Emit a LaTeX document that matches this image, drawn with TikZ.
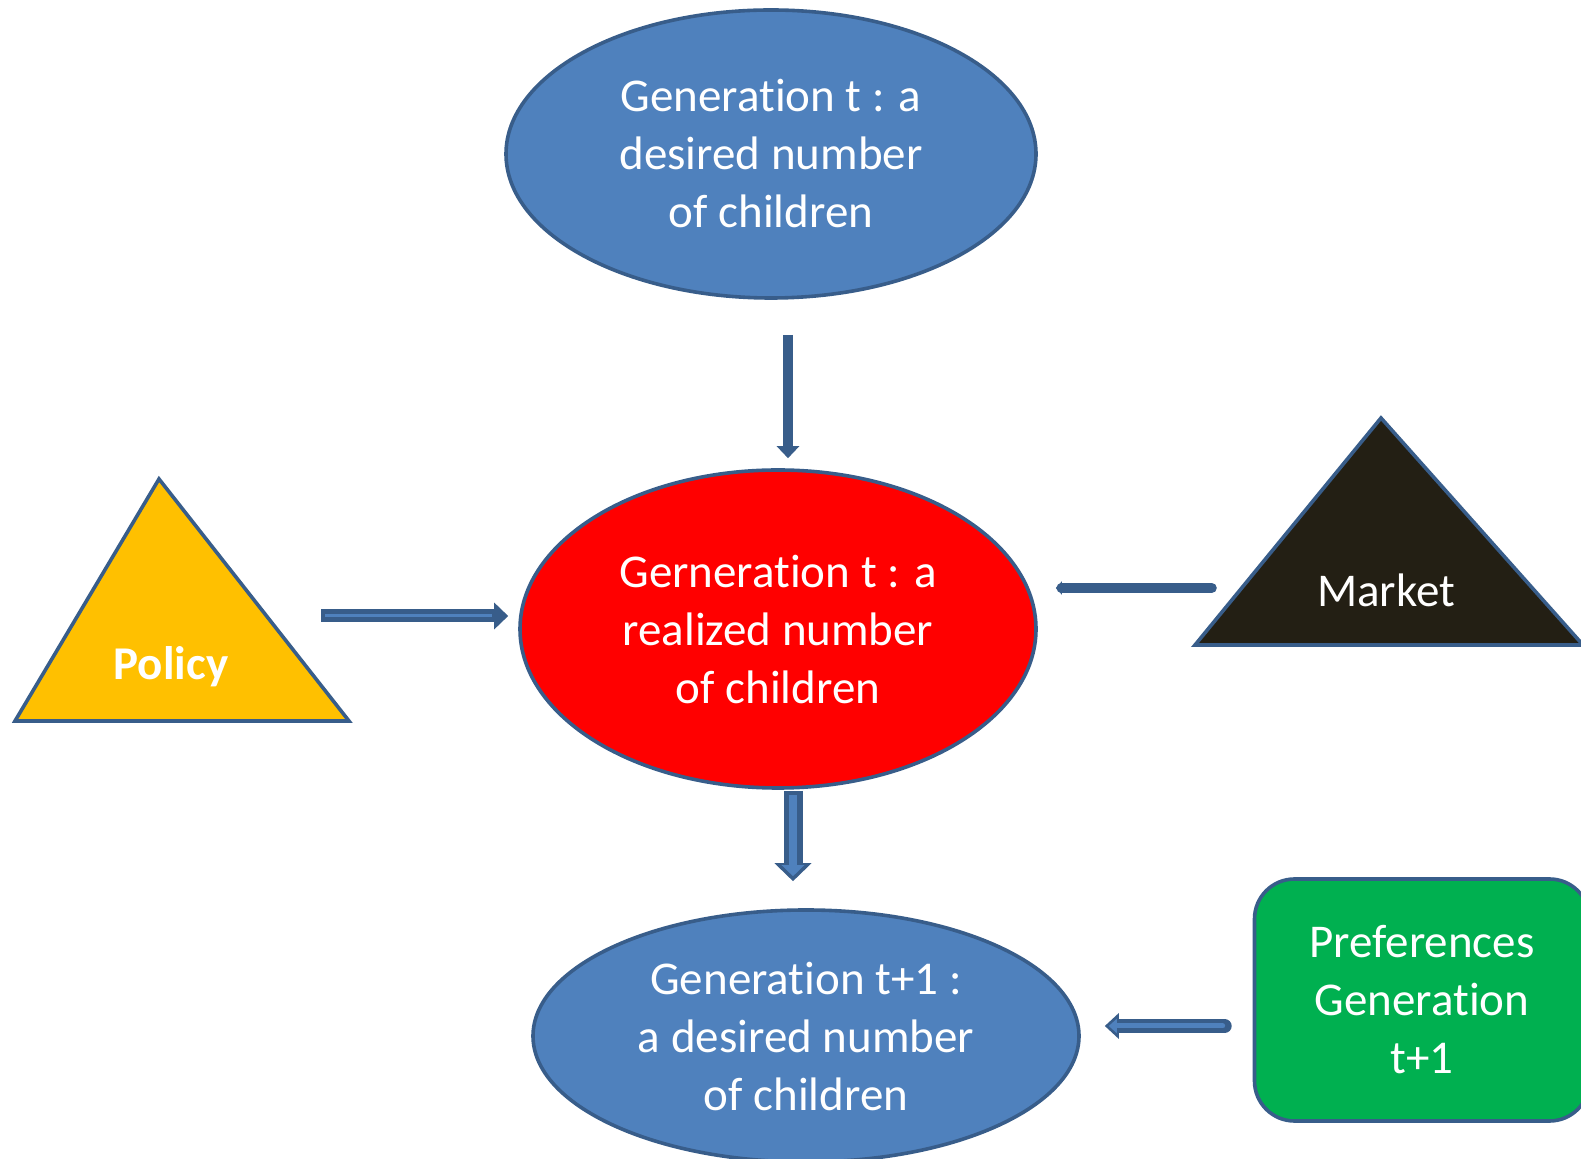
\documentclass[tikz,border=0pt]{standalone}
\usepackage{fontspec}
\setmainfont{Carlito}[Ligatures=NoCommon]
\usetikzlibrary{arrows.meta}
\usetikzlibrary{calc}
\usetikzlibrary{positioning}
\usetikzlibrary{shapes.geometric}
\definecolor{ofblue}{HTML}{4F81BD}
\definecolor{ofline}{HTML}{385D8A}
\definecolor{ofred}{HTML}{FF0000}
\definecolor{ofgold}{HTML}{FFC000}
\definecolor{ofdark}{HTML}{231F14}
\definecolor{ofgreen}{HTML}{00B050}
\begin{document}
\begin{tikzpicture}[x=0.5pt, y=-0.5pt]
    \fontsize{23.5}{29}\selectfont

    \tikzstyle{oval} = [ellipse, draw=ofline, line width=1.8pt, fill=ofblue, text=white, align=center, inner sep=0pt]
    \tikzstyle{tri} = [draw=ofline, line width=1.8pt]
    \tikzstyle{lab} = [text=white, align=center]
    \tikzstyle{outer} = [draw=ofline]
    \tikzstyle{inner} = [draw=ofblue]

    \useasboundingbox (0,0) rectangle (1581,1159);
    \clip (0,0) rectangle (1581,1159);

    % Main nodes %%%%%%%%%%%%%%%%%%%%%%%%%%%%%%%%%%%%%%%%%%%%%%%%%%%%%%%%%%%%%%%%%%%%%%%
    \node[oval, minimum width=265pt, minimum height=144pt] (genT) at (771,154) {Generation t : a\\desired number\\of children};
    \node[oval, fill=ofred, minimum width=258pt, minimum height=159pt] (realT) at (778,629) {Gerneration t : a\\realized number\\of children};
    \node[oval, minimum width=273pt, minimum height=126pt] (genT1) at (806,1036) {Generation t+1 :\\a desired number\\of children};
    \node[rectangle, rounded corners=20pt, draw=ofline, line width=1.8pt, fill=ofgreen, text=white, align=center,
          minimum width=167.5pt, minimum height=121pt] (pref) at (1422,1000) {Preferences\\Generation\\t+1};

    % Triangles %%%%%%%%%%%%%%%%%%%%%%%%%%%%%%%%%%%%%%%%%%%%%%%%%%%%%%%%%%%%%%%%%%%%%%%%%%
    \coordinate (polTop)   at (159,479);
    \coordinate (polLeft)  at (15,721);
    \coordinate (polRight) at (349,721);
    \filldraw[tri, fill=ofgold] (polTop) -- (polLeft) -- (polRight) -- cycle;
    \node[lab, font=\bfseries] (policy) at (171,667) {Policy};

    \coordinate (mktTop)   at (1381,418);
    \coordinate (mktLeft)  at (1195,645);
    \coordinate (mktRight) at (1583,645);
    \filldraw[tri, fill=ofdark] (mktTop) -- (mktLeft) -- (mktRight) -- cycle;
    \node[lab] (market) at (1386,590) {Market};

    % Arrow ends %%%%%%%%%%%%%%%%%%%%%%%%%%%%%%%%%%%%%%%%%%%%%%%%%%%%%%%%%%%%%%%%%%%%%%%%%
    \coordinate (aTs) at ($(genT.south)+(17,35)$);
    \coordinate (aTe) at ($(realT.north)+(10,-10)$);
    \coordinate (pE)  at ($(realT.west)+(-10,-13)$);
    \coordinate (pS)  at ($(pE)+(-187,0)$);
    \coordinate (mE)  at ($(realT.east)+(18,-41)$);
    \coordinate (mS)  at ($(mE)+(156,0)$);
    \coordinate (dS)  at ($(realT.south)+(15,1)$);
    \coordinate (dE)  at ($(genT1.north)+(-13,-27)$);
    \coordinate (bE)  at ($(genT1.east)+(24,-10)$);
    \coordinate (bS)  at ($(pref.west)+(-28,26)$);

    % Now link the nodes %%%%%%%%%%%%%%%%%%%%%%%%%%%%%%%%%%%%%%%%%%%%%%%%%%%%%%%%%%%%%%%%
    \draw [outer, line width=5pt, -{Triangle[length=6pt,width=11pt]}] (aTs) -- (aTe);

    \draw [outer, line width=6.5pt, -{Triangle[length=7pt,width=13pt]}] (pS) -- (pE);
    \draw [inner, line width=1.5pt, shorten <=2pt, shorten >=8pt] (pS) -- (pE);

    \draw [outer, line width=5pt, line cap=round, -{Triangle[length=3pt,width=6.5pt]}] (mS) -- (mE);

    \draw [outer, line width=9.5pt, -{Triangle[length=9pt,width=18pt]}] (dS) -- (dE);
    \draw [inner, line width=4pt, shorten <=2pt, shorten >=2.5pt, -{Triangle[length=5.5pt,width=11pt]}] (dS) -- (dE);

    \draw [outer, line width=7pt, line cap=round, -{Triangle[length=7pt,width=12.5pt]}] (bS) -- (bE);
    \draw [inner, line width=2.5pt, line cap=round, shorten <=1pt, shorten >=2pt, -{Triangle[length=4pt,width=7pt]}] (bS) -- (bE);

\end{tikzpicture}
\end{document}
